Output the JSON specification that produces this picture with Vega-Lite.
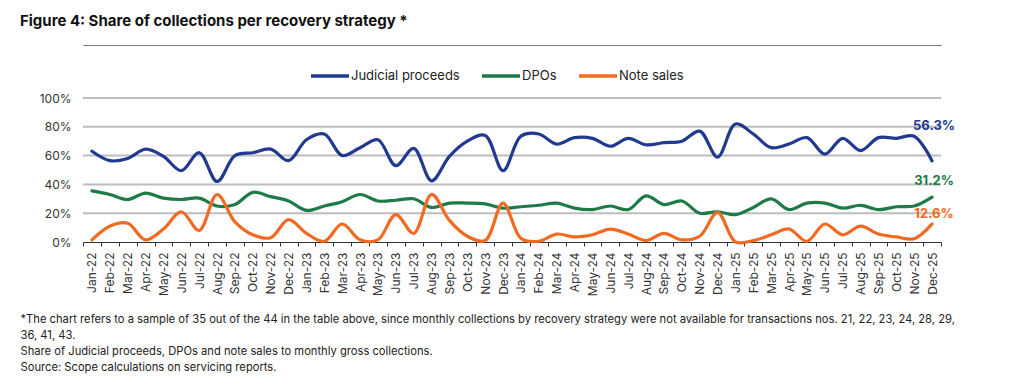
{
  "$schema": "https://vega.github.io/schema/vega-lite/v6.json",
  "width": 858,
  "height": 144,
  "padding": {"left": 20, "top": 14, "right": 10, "bottom": 4},
  "background": "white",
  "config": {
    "font": "Inter",
    "view": {"stroke": null},
    "axisY": {
      "grid": false,
      "labelOverlap": false,
      "domain": false,
      "ticks": false,
      "labelFontSize": 12,
      "labelColor": "#333333",
      "labelPadding": 12
    }
  },
  "title": {
    "text": "Figure 4: Share of collections per recovery strategy *",
    "anchor": "start",
    "frame": "bounds",
    "fontSize": 15,
    "fontWeight": "bold",
    "color": "#111111",
    "font": "Inter",
    "offset": 16
  },
  "datasets": {
    "gridlines": [{"g": 0.2}, {"g": 0.4}, {"g": 0.6}, {"g": 0.8}, {"g": 1.0}],
    "shares": [
      {"month": "Jan-22", "Judicial proceeds": 0.63, "DPOs": 0.355, "Note sales": 0.015},
      {"month": "Feb-22", "Judicial proceeds": 0.565, "DPOs": 0.33, "Note sales": 0.11},
      {"month": "Mar-22", "Judicial proceeds": 0.58, "DPOs": 0.295, "Note sales": 0.13},
      {"month": "Apr-22", "Judicial proceeds": 0.645, "DPOs": 0.34, "Note sales": 0.015},
      {"month": "May-22", "Judicial proceeds": 0.595, "DPOs": 0.305, "Note sales": 0.09},
      {"month": "Jun-22", "Judicial proceeds": 0.495, "DPOs": 0.295, "Note sales": 0.21},
      {"month": "Jul-22", "Judicial proceeds": 0.62, "DPOs": 0.305, "Note sales": 0.08},
      {"month": "Aug-22", "Judicial proceeds": 0.42, "DPOs": 0.25, "Note sales": 0.33},
      {"month": "Sep-22", "Judicial proceeds": 0.60, "DPOs": 0.26, "Note sales": 0.14},
      {"month": "Oct-22", "Judicial proceeds": 0.62, "DPOs": 0.345, "Note sales": 0.05},
      {"month": "Nov-22", "Judicial proceeds": 0.645, "DPOs": 0.315, "Note sales": 0.03},
      {"month": "Dec-22", "Judicial proceeds": 0.565, "DPOs": 0.285, "Note sales": 0.155},
      {"month": "Jan-23", "Judicial proceeds": 0.71, "DPOs": 0.22, "Note sales": 0.06},
      {"month": "Feb-23", "Judicial proceeds": 0.75, "DPOs": 0.25, "Note sales": 0.005},
      {"month": "Mar-23", "Judicial proceeds": 0.60, "DPOs": 0.28, "Note sales": 0.125},
      {"month": "Apr-23", "Judicial proceeds": 0.655, "DPOs": 0.33, "Note sales": 0.015},
      {"month": "May-23", "Judicial proceeds": 0.71, "DPOs": 0.285, "Note sales": 0.015},
      {"month": "Jun-23", "Judicial proceeds": 0.53, "DPOs": 0.29, "Note sales": 0.19},
      {"month": "Jul-23", "Judicial proceeds": 0.65, "DPOs": 0.30, "Note sales": 0.06},
      {"month": "Aug-23", "Judicial proceeds": 0.425, "DPOs": 0.24, "Note sales": 0.33},
      {"month": "Sep-23", "Judicial proceeds": 0.595, "DPOs": 0.27, "Note sales": 0.15},
      {"month": "Oct-23", "Judicial proceeds": 0.70, "DPOs": 0.27, "Note sales": 0.04},
      {"month": "Nov-23", "Judicial proceeds": 0.74, "DPOs": 0.265, "Note sales": 0.01},
      {"month": "Dec-23", "Judicial proceeds": 0.495, "DPOs": 0.235, "Note sales": 0.27},
      {"month": "Jan-24", "Judicial proceeds": 0.735, "DPOs": 0.245, "Note sales": 0.025},
      {"month": "Feb-24", "Judicial proceeds": 0.75, "DPOs": 0.255, "Note sales": 0.005},
      {"month": "Mar-24", "Judicial proceeds": 0.68, "DPOs": 0.27, "Note sales": 0.055},
      {"month": "Apr-24", "Judicial proceeds": 0.725, "DPOs": 0.235, "Note sales": 0.035},
      {"month": "May-24", "Judicial proceeds": 0.72, "DPOs": 0.225, "Note sales": 0.05},
      {"month": "Jun-24", "Judicial proceeds": 0.665, "DPOs": 0.25, "Note sales": 0.09},
      {"month": "Jul-24", "Judicial proceeds": 0.72, "DPOs": 0.225, "Note sales": 0.055},
      {"month": "Aug-24", "Judicial proceeds": 0.675, "DPOs": 0.32, "Note sales": 0.01},
      {"month": "Sep-24", "Judicial proceeds": 0.69, "DPOs": 0.26, "Note sales": 0.06},
      {"month": "Oct-24", "Judicial proceeds": 0.70, "DPOs": 0.285, "Note sales": 0.015},
      {"month": "Nov-24", "Judicial proceeds": 0.77, "DPOs": 0.20, "Note sales": 0.04},
      {"month": "Dec-24", "Judicial proceeds": 0.59, "DPOs": 0.21, "Note sales": 0.205},
      {"month": "Jan-25", "Judicial proceeds": 0.82, "DPOs": 0.19, "Note sales": 0.0},
      {"month": "Feb-25", "Judicial proceeds": 0.75, "DPOs": 0.24, "Note sales": 0.01},
      {"month": "Mar-25", "Judicial proceeds": 0.655, "DPOs": 0.30, "Note sales": 0.05},
      {"month": "Apr-25", "Judicial proceeds": 0.68, "DPOs": 0.225, "Note sales": 0.09},
      {"month": "May-25", "Judicial proceeds": 0.725, "DPOs": 0.27, "Note sales": 0.005},
      {"month": "Jun-25", "Judicial proceeds": 0.61, "DPOs": 0.27, "Note sales": 0.125},
      {"month": "Jul-25", "Judicial proceeds": 0.72, "DPOs": 0.235, "Note sales": 0.05},
      {"month": "Aug-25", "Judicial proceeds": 0.635, "DPOs": 0.255, "Note sales": 0.11},
      {"month": "Sep-25", "Judicial proceeds": 0.725, "DPOs": 0.225, "Note sales": 0.055},
      {"month": "Oct-25", "Judicial proceeds": 0.72, "DPOs": 0.245, "Note sales": 0.035},
      {"month": "Nov-25", "Judicial proceeds": 0.735, "DPOs": 0.25, "Note sales": 0.023},
      {"month": "Dec-25", "Judicial proceeds": 0.563, "DPOs": 0.312, "Note sales": 0.126}
    ]
  },
  "resolve": {"axis": {"x": "independent"}},
  "layer": [
    {
      "data": {"name": "gridlines"},
      "mark": {"type": "rule", "stroke": "#bdbdbd", "strokeWidth": 2},
      "encoding": {
        "y": {"field": "g", "type": "quantitative", "scale": {"domain": [0, 1], "nice": false}, "axis": {"values": [0, 0.2, 0.4, 0.6, 0.8, 1], "format": ".0%", "title": null, "labelOverlap": false}}
      }
    },
    {
      "data": {"name": "shares"},
      "transform": [{"fold": ["Judicial proceeds", "DPOs", "Note sales"], "as": ["series", "value"]}],
      "mark": {"type": "line", "strokeWidth": 3.2, "interpolate": "catmull-rom", "strokeCap": "round", "strokeJoin": "round"},
      "encoding": {
        "x": {
          "field": "month", "type": "nominal", "sort": null,
          "scale": {"paddingInner": 0, "paddingOuter": 0},
          "axis": {
            "orient": "bottom",
            "labelAngle": -90,
            "labelFontSize": 12,
            "labelColor": "#333333",
            "labelPadding": 6,
            "tickSize": 4,
            "tickColor": "#333333",
            "tickBand": "extent",
            "domainColor": "#333333",
            "grid": false,
            "title": [
              "*The chart refers to a sample of 35 out of the 44 in the table above, since monthly collections by recovery strategy were not available for transactions nos. 21, 22, 23, 24, 28, 29,",
              "36, 41, 43.",
              "Share of Judicial proceeds, DPOs and note sales to monthly gross collections.",
              "Source: Scope calculations on servicing reports."
            ],
            "titleFontSize": 11.2,
            "titleFontWeight": "normal",
            "titleColor": "#222222",
            "titleAnchor": "start",
            "titleAlign": "left",
            "titleBaseline": "top",
            "titleX": -63,
            "titleY": 71,
            "titleLineHeight": 16.3
          }
        },
        "y": {
          "field": "value", "type": "quantitative",
          "axis": {"values": [0, 0.2, 0.4, 0.6, 0.8, 1], "format": ".0%", "title": null, "labelOverlap": false}
        },
        "color": {
          "field": "series", "type": "nominal",
          "scale": {"domain": ["Judicial proceeds", "DPOs", "Note sales"], "range": ["#213a8f", "#1e7b48", "#f26a21"]},
          "legend": {
            "orient": "none",
            "direction": "horizontal",
            "legendX": 226,
            "legendY": -43,
            "title": null,
            "symbolType": "stroke",
            "symbolSize": 1444,
            "symbolStrokeWidth": 3.5,
            "labelFontSize": 13,
            "labelColor": "#222222",
            "labelOffset": 0,
            "columnPadding": 15
          }
        }
      }
    },
    {
      "data": {"name": "shares"},
      "transform": [{"fold": ["Judicial proceeds", "DPOs", "Note sales"], "as": ["series", "value"]}, {"filter": "datum.month == 'Dec-25' && datum.series == 'Judicial proceeds'"}],
      "mark": {"type": "text", "fontSize": 13, "fontWeight": "bold", "color": "#213a8f", "dy": -35, "dx": 2},
      "encoding": {
        "x": {
          "field": "month", "type": "nominal", "sort": null,
          "axis": {"orient": "top", "labels": false, "ticks": false, "domain": true, "domainColor": "#777777", "domainWidth": 1.2, "offset": 53, "title": null, "grid": false}
        },
        "y": {"field": "value", "type": "quantitative", "axis": {"values": [0, 0.2, 0.4, 0.6, 0.8, 1], "format": ".0%", "title": null, "labelOverlap": false}},
        "text": {"field": "value", "type": "quantitative", "format": ".1%"}
      }
    },
    {
      "data": {"name": "shares"},
      "transform": [{"fold": ["Judicial proceeds", "DPOs", "Note sales"], "as": ["series", "value"]}, {"filter": "datum.month == 'Dec-25' && datum.series == 'DPOs'"}],
      "mark": {"type": "text", "fontSize": 13, "fontWeight": "bold", "color": "#1e7b48", "dy": -16, "dx": 2},
      "encoding": {
        "x": {"field": "month", "type": "nominal", "sort": null, "axis": null},
        "y": {"field": "value", "type": "quantitative", "axis": {"values": [0, 0.2, 0.4, 0.6, 0.8, 1], "format": ".0%", "title": null, "labelOverlap": false}},
        "text": {"field": "value", "type": "quantitative", "format": ".1%"}
      }
    },
    {
      "data": {"name": "shares"},
      "transform": [{"fold": ["Judicial proceeds", "DPOs", "Note sales"], "as": ["series", "value"]}, {"filter": "datum.month == 'Dec-25' && datum.series == 'Note sales'"}],
      "mark": {"type": "text", "fontSize": 13, "fontWeight": "bold", "color": "#f26a21", "dy": -10, "dx": 2},
      "encoding": {
        "x": {"field": "month", "type": "nominal", "sort": null, "axis": null},
        "y": {"field": "value", "type": "quantitative", "axis": {"values": [0, 0.2, 0.4, 0.6, 0.8, 1], "format": ".0%", "title": null, "labelOverlap": false}},
        "text": {"field": "value", "type": "quantitative", "format": ".1%"}
      }
    }
  ]
}
